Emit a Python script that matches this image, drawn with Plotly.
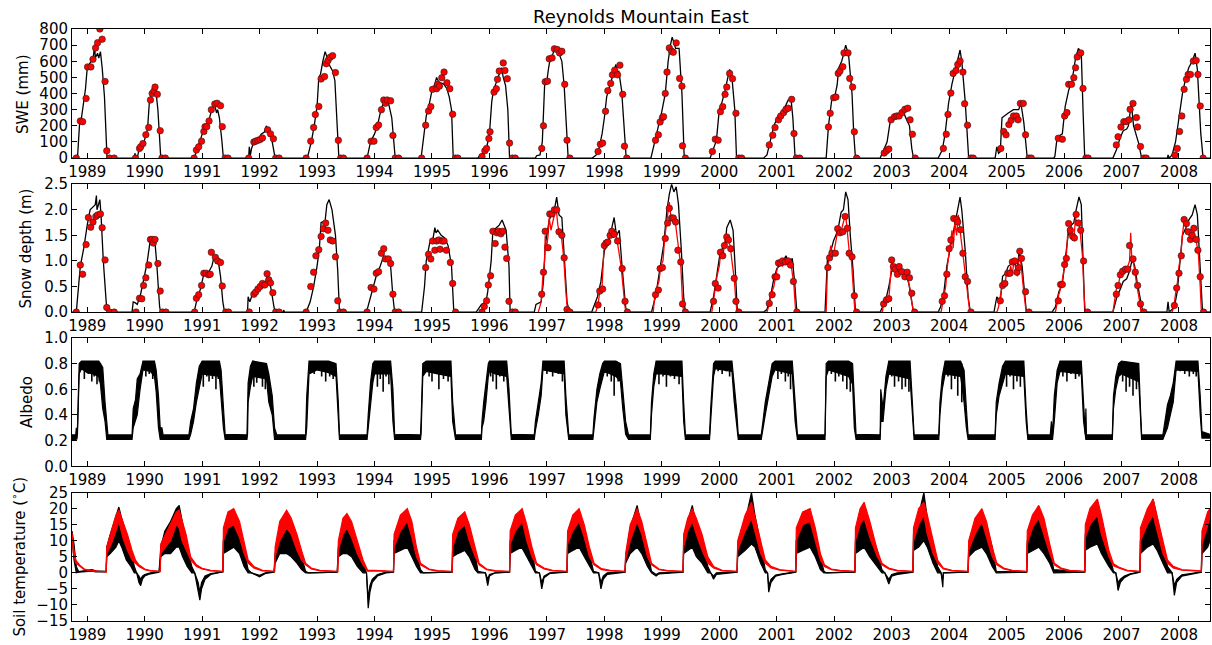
import plotly.graph_objects as go

# ---- axes ----
years = list(range(1989, 2009))
year_labels = [str(y) for y in years]
x_span = [1988.735, 2008.54]

# ---- snow water equivalent (mm): modelled line, observed points ----
swe_model = [
    (1988.735, 0),
    (1988.83, 0), (1988.87, 230), (1988.9, 250), (1988.97, 430), (1989.0, 560), (1989.05, 590), (1989.1, 610),
    (1989.13, 700), (1989.14, 620), (1989.18, 650), (1989.2, 620), (1989.23, 660), (1989.26, 560), (1989.3, 380),
    (1989.33, 100), (1989.345, 0),
    (1989.82, 0), (1989.83, 30), (1989.85, 0), (1989.87, 0), (1989.9, 50), (1989.98, 90), (1990.05, 180),
    (1990.08, 340), (1990.11, 400), (1990.16, 430), (1990.2, 400), (1990.23, 300), (1990.28, 0),
    (1990.84, 0), (1990.87, 10), (1990.92, 60), (1991.0, 140), (1991.05, 200), (1991.1, 210), (1991.16, 290),
    (1991.22, 330), (1991.25, 280), (1991.27, 300), (1991.3, 250), (1991.34, 120), (1991.37, 0),
    (1991.81, 0), (1991.82, 70), (1991.84, 20), (1991.86, 60), (1991.9, 100), (1991.97, 115), (1992.03, 150),
    (1992.08, 160), (1992.12, 200), (1992.14, 170), (1992.2, 140), (1992.24, 60), (1992.27, 0),
    (1992.83, 0), (1992.9, 100), (1992.95, 200), (1993.0, 320), (1993.03, 500), (1993.06, 520), (1993.1, 600),
    (1993.14, 660), (1993.17, 630), (1993.21, 580), (1993.27, 540), (1993.31, 480), (1993.35, 200), (1993.38, 0),
    (1993.87, 0), (1993.93, 100), (1994.0, 150), (1994.05, 200), (1994.1, 280), (1994.15, 340), (1994.2, 360),
    (1994.25, 330), (1994.3, 250), (1994.34, 80), (1994.36, 0),
    (1994.81, 0), (1994.86, 150), (1994.9, 260), (1994.95, 330), (1995.0, 420), (1995.05, 460), (1995.08, 500),
    (1995.12, 470), (1995.2, 460), (1995.26, 430), (1995.3, 380), (1995.34, 300), (1995.37, 0),
    (1995.8, 0), (1995.84, 20), (1995.9, 30), (1995.96, 80), (1996.0, 150), (1996.04, 350), (1996.07, 420),
    (1996.12, 470), (1996.17, 520), (1996.21, 560), (1996.24, 500), (1996.28, 450), (1996.32, 300), (1996.35, 0),
    (1996.8, 0), (1996.82, 15), (1996.88, 20), (1996.92, 100), (1996.96, 450), (1997.0, 480), (1997.03, 560),
    (1997.06, 620), (1997.1, 640), (1997.14, 690), (1997.18, 680), (1997.22, 640), (1997.26, 600), (1997.3, 450),
    (1997.34, 200), (1997.37, 0),
    (1997.79, 0), (1997.86, 20), (1997.9, 50), (1997.96, 150), (1998.0, 250), (1998.04, 380), (1998.08, 430),
    (1998.12, 480), (1998.16, 540), (1998.2, 580), (1998.23, 520), (1998.25, 540), (1998.3, 420), (1998.35, 150),
    (1998.37, 20), (1998.38, 0),
    (1998.81, 0), (1998.88, 100), (1998.95, 200), (1999.0, 290), (1999.06, 400), (1999.11, 600), (1999.15, 700),
    (1999.18, 750), (1999.24, 680), (1999.3, 680), (1999.35, 400), (1999.39, 0),
    (1999.84, 0), (1999.9, 60), (1999.95, 110), (2000.0, 300), (2000.05, 350), (2000.1, 420), (2000.14, 480),
    (2000.18, 550), (2000.22, 500), (2000.27, 300), (2000.3, 0),
    (2000.77, 0), (2000.83, 20), (2000.88, 100), (2000.95, 200), (2001.02, 260), (2001.1, 290), (2001.16, 330),
    (2001.2, 360), (2001.25, 360), (2001.28, 250), (2001.32, 0),
    (2001.86, 0), (2001.9, 200), (2001.93, 280), (2001.96, 370), (2002.02, 400), (2002.05, 450), (2002.08, 560),
    (2002.13, 600), (2002.16, 640), (2002.2, 700), (2002.25, 640), (2002.31, 400), (2002.34, 150), (2002.37, 0),
    (2002.8, 0), (2002.86, 50), (2002.92, 100), (2002.98, 240), (2003.03, 260), (2003.12, 270), (2003.21, 280),
    (2003.27, 230), (2003.31, 200), (2003.35, 60), (2003.38, 0),
    (2003.81, 0), (2003.88, 50), (2003.93, 150), (2003.99, 340), (2004.05, 460), (2004.11, 550), (2004.15, 620),
    (2004.19, 670), (2004.22, 600), (2004.28, 350), (2004.34, 0),
    (2004.8, 0), (2004.83, 70), (2004.86, 30), (2004.89, 40), (2004.92, 250), (2005.03, 280), (2005.12, 300),
    (2005.21, 300), (2005.25, 340), (2005.3, 220), (2005.36, 0),
    (2005.82, 0), (2005.84, 10), (2005.88, 130), (2005.97, 150), (2006.02, 320), (2006.08, 420), (2006.14, 480),
    (2006.2, 620), (2006.25, 680), (2006.3, 650), (2006.33, 300), (2006.36, 0),
    (2006.85, 0), (2006.91, 50), (2006.98, 130), (2007.03, 170), (2007.09, 180), (2007.12, 200), (2007.17, 340),
    (2007.21, 200), (2007.3, 90), (2007.35, 0),
    (2007.8, 0), (2007.81, 20), (2007.83, 0), (2007.88, 20), (2007.94, 100), (2008.0, 250), (2008.06, 400),
    (2008.12, 500), (2008.17, 560), (2008.23, 600), (2008.28, 650), (2008.32, 550), (2008.38, 150), (2008.42, 0),
    (2008.54, 0),
]

swe_obs = [
    (1988.81, 0), (1988.88, 230), (1988.92, 226), (1988.98, 370), (1989.006, 565), (1989.064, 565), (1989.1, 612),
    (1989.145, 683), (1989.18, 715), (1989.22, 800), (1989.26, 737), (1989.31, 475), (1989.34, 45), (1989.39, 0),
    (1989.47, 0),
    (1989.84, 0), (1989.91, 60), (1989.93, 70), (1989.97, 90), (1990.02, 145), (1990.07, 190), (1990.1, 360),
    (1990.13, 400), (1990.16, 415), (1990.18, 440), (1990.22, 395), (1990.27, 170), (1990.3, 0), (1990.36, 0),
    (1990.86, 0), (1990.9, 50), (1990.94, 70), (1990.99, 105), (1991.03, 165), (1991.05, 195), (1991.08, 195),
    (1991.12, 230), (1991.16, 300), (1991.22, 335), (1991.26, 340), (1991.32, 325), (1991.35, 195), (1991.4, 0),
    (1991.45, 0),
    (1991.81, 0), (1991.9, 100), (1991.93, 105), (1991.97, 110), (1992.01, 115), (1992.05, 125), (1992.14, 175),
    (1992.19, 150), (1992.24, 120), (1992.28, 0), (1992.34, 0),
    (1992.81, 0), (1992.89, 105), (1992.94, 190), (1992.97, 270), (1993.03, 320), (1993.07, 490), (1993.13, 505),
    (1993.16, 585), (1993.19, 605), (1993.23, 625), (1993.27, 635), (1993.32, 530), (1993.37, 110), (1993.41, 0),
    (1993.46, 0),
    (1993.87, 0), (1993.94, 105), (1993.99, 105), (1994.03, 190), (1994.07, 205), (1994.12, 300), (1994.16, 360),
    (1994.19, 340), (1994.22, 360), (1994.28, 355), (1994.32, 140), (1994.36, 0), (1994.42, 0),
    (1994.82, 0), (1994.89, 204), (1994.94, 292), (1994.98, 319), (1995.01, 426), (1995.08, 430), (1995.1, 457),
    (1995.13, 446), (1995.17, 498), (1995.21, 533), (1995.26, 467), (1995.31, 430), (1995.36, 272), (1995.41, 0),
    (1995.45, 0),
    (1995.87, 10), (1995.92, 45), (1995.95, 60), (1995.99, 121), (1996.01, 163), (1996.08, 409), (1996.12, 430),
    (1996.14, 488), (1996.17, 539), (1996.24, 590), (1996.27, 543), (1996.31, 492), (1996.35, 93), (1996.4, 0),
    (1996.45, 0),
    (1996.91, 60), (1996.94, 200), (1996.97, 473), (1997.01, 477), (1997.04, 615), (1997.09, 621), (1997.13, 677),
    (1997.18, 673), (1997.22, 652), (1997.26, 662), (1997.31, 457), (1997.35, 111), (1997.4, 0),
    (1997.89, 41), (1997.93, 86), (1997.97, 93), (1998.02, 290), (1998.06, 418), (1998.11, 463), (1998.14, 516),
    (1998.18, 545), (1998.23, 516), (1998.27, 576), (1998.32, 395), (1998.35, 74), (1998.39, 0),
    (1998.89, 111), (1998.94, 144), (1998.97, 224), (1999.01, 251), (1999.03, 257), (1999.06, 401), (1999.09, 533),
    (1999.13, 683), (1999.17, 662), (1999.2, 656), (1999.25, 714), (1999.31, 494), (1999.35, 446), (1999.36, 76),
    (1999.41, 0),
    (1999.88, 41), (1999.93, 117), (1999.98, 111), (2000.02, 288), (2000.06, 319), (2000.1, 395), (2000.13, 440),
    (2000.18, 525), (2000.23, 492), (2000.29, 278), (2000.34, 0), (2000.39, 0),
    (2000.87, 82), (2000.93, 142), (2000.97, 189), (2001.03, 237), (2001.07, 261), (2001.12, 282), (2001.16, 302),
    (2001.2, 309), (2001.26, 364), (2001.3, 152), (2001.34, 0), (2001.4, 0),
    (2001.9, 193), (2001.93, 278), (2001.99, 374), (2002.03, 378), (2002.07, 525), (2002.1, 539), (2002.15, 566),
    (2002.17, 652), (2002.24, 652), (2002.27, 494), (2002.32, 440), (2002.35, 163), (2002.39, 0),
    (2002.87, 31), (2002.91, 45), (2002.95, 56), (2002.99, 237), (2003.05, 257), (2003.09, 261), (2003.13, 261),
    (2003.18, 282), (2003.23, 302), (2003.28, 309), (2003.32, 237), (2003.36, 148), (2003.41, 0),
    (2003.9, 60), (2003.95, 148), (2003.98, 271), (2004.03, 403), (2004.07, 525), (2004.12, 543), (2004.15, 580),
    (2004.19, 601), (2004.24, 533), (2004.27, 337), (2004.32, 204), (2004.38, 0), (2004.42, 0),
    (2004.9, 60), (2004.95, 165), (2004.99, 144), (2005.04, 208), (2005.08, 234), (2005.12, 261), (2005.17, 261),
    (2005.2, 237), (2005.24, 339), (2005.29, 339), (2005.33, 144), (2005.39, 0), (2005.43, 0),
    (2005.9, 123), (2005.97, 117), (2006.01, 261), (2006.05, 282), (2006.08, 457), (2006.13, 457), (2006.17, 498),
    (2006.2, 560), (2006.23, 627), (2006.29, 652), (2006.33, 432), (2006.38, 0), (2006.42, 0),
    (2006.91, 82), (2006.94, 132), (2006.99, 193), (2007.04, 226), (2007.08, 226), (2007.13, 237), (2007.15, 302),
    (2007.2, 339), (2007.26, 251), (2007.28, 193), (2007.33, 72), (2007.39, 0), (2007.43, 0),
    (2007.93, 19), (2007.97, 60), (2008.01, 165), (2008.05, 261), (2008.09, 426), (2008.13, 488), (2008.16, 518),
    (2008.2, 518), (2008.25, 601), (2008.3, 605), (2008.33, 518), (2008.37, 323), (2008.42, 0),
]

# ---- snow depth (m): modelled line, continuous observed line, manual observations ----
depth_model = [
    (1988.735, 0),
    (1988.81, 0), (1988.88, 0.9), (1988.94, 1.25), (1989.0, 1.7), (1989.05, 2.0), (1989.14, 2.1), (1989.16, 2.28),
    (1989.17, 2.0), (1989.2, 2.1), (1989.22, 2.2), (1989.24, 1.9), (1989.28, 1.0), (1989.33, 0.2), (1989.35, 0),
    (1989.78, 0), (1989.8, 0.2), (1989.84, 0.18), (1989.87, 0.15), (1989.92, 0.3), (1989.98, 0.6), (1990.04, 0.95),
    (1990.09, 1.35), (1990.13, 1.42), (1990.18, 1.35), (1990.21, 0.95), (1990.26, 0.1), (1990.28, 0),
    (1990.82, 0), (1990.87, 0.05), (1990.91, 0.25), (1990.97, 0.45), (1991.03, 0.75), (1991.11, 0.78),
    (1991.17, 0.9), (1991.21, 1.1), (1991.24, 0.95), (1991.28, 1.0), (1991.32, 0.7), (1991.36, 0.2), (1991.39, 0),
    (1991.79, 0), (1991.8, 0.3), (1991.83, 0.2), (1991.86, 0.3), (1991.95, 0.38), (1992.03, 0.45), (1992.07, 0.5),
    (1992.1, 0.55), (1992.13, 0.7), (1992.17, 0.6), (1992.2, 0.45), (1992.25, 0.1), (1992.27, 0),
    (1992.41, 0), (1992.42, 0.04), (1992.43, 0),
    (1992.81, 0), (1992.88, 0.2), (1992.94, 0.5), (1993.0, 0.9), (1993.04, 1.25), (1993.07, 1.75), (1993.14, 1.78),
    (1993.17, 2.1), (1993.21, 2.2), (1993.26, 2.0), (1993.3, 1.7), (1993.32, 1.5), (1993.36, 0.8), (1993.39, 0),
    (1993.86, 0), (1993.93, 0.3), (1993.99, 0.5), (1994.04, 0.75), (1994.1, 0.9), (1994.16, 1.1), (1994.22, 1.05),
    (1994.28, 0.9), (1994.32, 0.3), (1994.35, 0),
    (1994.82, 0), (1994.87, 0.5), (1994.9, 1.0), (1994.96, 1.35), (1995.02, 1.45), (1995.05, 1.65), (1995.07, 1.55),
    (1995.1, 1.6), (1995.16, 1.5), (1995.22, 1.45), (1995.28, 1.3), (1995.34, 0.9), (1995.38, 0),
    (1995.77, 0), (1995.8, 0.05), (1995.86, 0.15), (1995.94, 0.2), (1995.97, 0.4), (1996.03, 1.0), (1996.06, 1.6),
    (1996.12, 1.65), (1996.17, 1.7), (1996.22, 1.8), (1996.24, 1.75), (1996.29, 1.6), (1996.34, 0.9), (1996.36, 0),
    (1996.78, 0), (1996.81, 0.15), (1996.9, 0.2), (1996.94, 0.6), (1996.97, 1.3), (1997.01, 1.55), (1997.04, 1.8),
    (1997.1, 1.95), (1997.13, 2.0), (1997.17, 2.25), (1997.21, 1.9), (1997.26, 1.85), (1997.3, 1.2), (1997.35, 0.2),
    (1997.39, 0),
    (1997.78, 0), (1997.88, 0.3), (1997.94, 0.6), (1998.0, 1.2), (1998.04, 1.3), (1998.1, 1.5), (1998.17, 1.85),
    (1998.21, 1.5), (1998.26, 1.6), (1998.3, 1.0), (1998.34, 0.4), (1998.37, 0.1), (1998.39, 0),
    (1998.82, 0), (1998.89, 0.3), (1998.98, 0.9), (1999.03, 1.3), (1999.09, 2.0), (1999.13, 2.3), (1999.17, 2.5),
    (1999.21, 2.35), (1999.25, 2.45), (1999.29, 2.1), (1999.34, 1.2), (1999.38, 0.3), (1999.41, 0),
    (1999.84, 0), (1999.9, 0.3), (1999.96, 0.8), (2000.02, 1.2), (2000.1, 1.3), (2000.13, 1.65), (2000.19, 1.8),
    (2000.24, 1.6), (2000.28, 0.8), (2000.31, 0.1), (2000.33, 0),
    (2000.77, 0), (2000.83, 0.05), (2000.89, 0.3), (2000.94, 0.6), (2001.0, 0.85), (2001.09, 0.95), (2001.16, 1.1),
    (2001.22, 0.95), (2001.27, 1.05), (2001.31, 0.6), (2001.35, 0),
    (2001.84, 0), (2001.88, 1.0), (2001.93, 1.15), (2001.99, 1.4), (2002.03, 1.5), (2002.08, 1.7), (2002.12, 1.95),
    (2002.16, 2.0), (2002.2, 2.35), (2002.24, 2.2), (2002.28, 1.5), (2002.33, 0.8), (2002.37, 0),
    (2002.8, 0), (2002.86, 0.15), (2002.9, 0.25), (2002.95, 0.5), (2003.0, 0.8), (2003.09, 0.85), (2003.18, 0.75),
    (2003.24, 0.8), (2003.3, 0.55), (2003.35, 0.2), (2003.38, 0),
    (2003.81, 0), (2003.85, 0.1), (2003.9, 0.3), (2003.96, 0.9), (2004.02, 1.25), (2004.08, 1.6), (2004.14, 1.9),
    (2004.19, 2.25), (2004.22, 2.0), (2004.28, 1.2), (2004.33, 0.3), (2004.37, 0),
    (2004.78, 0), (2004.83, 0.3), (2004.89, 0.2), (2004.93, 0.7), (2004.98, 0.75), (2005.03, 0.9), (2005.1, 0.95),
    (2005.14, 1.0), (2005.18, 0.8), (2005.22, 1.2), (2005.27, 0.9), (2005.3, 0.5), (2005.34, 0.05), (2005.36, 0),
    (2005.79, 0), (2005.85, 0.1), (2005.91, 0.4), (2005.97, 0.55), (2006.02, 1.0), (2006.07, 1.5), (2006.13, 1.7),
    (2006.17, 1.75), (2006.21, 2.0), (2006.26, 2.25), (2006.3, 2.1), (2006.33, 1.0), (2006.36, 0),
    (2006.85, 0), (2006.92, 0.3), (2006.98, 0.45), (2007.03, 0.6), (2007.09, 0.65), (2007.14, 0.8), (2007.19, 1.05),
    (2007.23, 0.9), (2007.27, 0.6), (2007.33, 0.2), (2007.37, 0),
    (2007.79, 0), (2007.8, 0.1), (2007.81, 0.2), (2007.83, 0), (2007.92, 0.1), (2007.97, 0.4), (2008.0, 0.8),
    (2008.06, 1.5), (2008.12, 1.65), (2008.17, 1.8), (2008.23, 1.9), (2008.28, 2.1), (2008.32, 1.9), (2008.37, 0.8),
    (2008.41, 0),
    (2008.54, 0),
]

depth_obs_line = [
    (1996.85, 0), (1996.9, 0.2), (1996.93, 0.7), (1996.96, 1.0), (1996.97, 1.5), (1996.99, 1.2), (1997.02, 1.5),
    (1997.04, 1.85), (1997.07, 1.6), (1997.1, 1.75), (1997.13, 1.9), (1997.16, 2.05), (1997.19, 1.7), (1997.22, 1.55),
    (1997.25, 1.5), (1997.29, 1.1), (1997.33, 0.4), (1997.36, 0),
    (1997.85, 0), (1997.89, 0.15), (1997.92, 0.4), (1997.96, 0.5), (1997.99, 1.2), (1998.02, 1.4), (1998.06, 1.3),
    (1998.09, 1.55), (1998.13, 1.65), (1998.16, 1.45), (1998.19, 1.6), (1998.22, 1.35), (1998.25, 1.2),
    (1998.29, 0.9), (1998.33, 0.4), (1998.36, 0.1), (1998.38, 0),
    (1998.85, 0), (1998.88, 0.35), (1998.92, 0.5), (1998.95, 0.6), (1998.98, 0.9), (1999.02, 1.0), (1999.05, 1.45),
    (1999.08, 1.75), (1999.11, 2.0), (1999.13, 2.15), (1999.16, 1.85), (1999.2, 1.75), (1999.23, 1.8),
    (1999.27, 1.45), (1999.3, 1.2), (1999.33, 0.9), (1999.36, 0.2), (1999.38, 0),
    (1999.87, 0), (1999.9, 0.25), (1999.93, 0.5), (1999.96, 0.7), (2000.0, 0.9), (2000.03, 1.2), (2000.06, 1.05),
    (2000.09, 1.35), (2000.12, 1.5), (2000.15, 1.4), (2000.19, 1.3), (2000.22, 1.0), (2000.26, 0.65),
    (2000.29, 0.2), (2000.31, 0),
    (2000.83, 0), (2000.87, 0.15), (2000.9, 0.35), (2000.95, 0.5), (2000.98, 0.7), (2001.02, 0.9), (2001.05, 0.95),
    (2001.1, 0.9), (2001.15, 1.0), (2001.18, 0.95), (2001.22, 1.0), (2001.26, 0.85), (2001.3, 0.5), (2001.33, 0),
    (2001.86, 0), (2001.88, 0.8), (2001.91, 1.05), (2001.94, 1.3), (2001.97, 1.1), (2002.0, 1.2), (2002.04, 1.45),
    (2002.07, 1.7), (2002.1, 1.5), (2002.13, 1.65), (2002.17, 1.8), (2002.2, 1.9), (2002.23, 1.6), (2002.26, 1.2),
    (2002.3, 1.0), (2002.33, 0.5), (2002.36, 0),
    (2002.84, 0), (2002.86, 0.25), (2002.89, 0.15), (2002.92, 0.3), (2002.95, 0.25), (2002.98, 0.8), (2003.0, 1.0),
    (2003.03, 0.8), (2003.06, 0.9), (2003.09, 0.7), (2003.12, 0.85), (2003.15, 0.75), (2003.18, 0.8),
    (2003.21, 0.65), (2003.25, 0.75), (2003.29, 0.6), (2003.32, 0.45), (2003.35, 0.2), (2003.38, 0),
    (2003.86, 0), (2003.9, 0.25), (2003.94, 0.5), (2003.97, 0.9), (2004.0, 1.2), (2004.03, 1.4), (2004.05, 1.6),
    (2004.07, 1.25), (2004.1, 1.75), (2004.13, 1.5), (2004.16, 1.9), (2004.19, 1.6), (2004.22, 1.3), (2004.25, 1.0),
    (2004.29, 0.65), (2004.33, 0.25), (2004.36, 0),
    (2004.83, 0), (2004.86, 0.1), (2004.88, 0.25), (2004.91, 0.4), (2004.94, 0.6), (2004.97, 0.5), (2005.0, 0.8),
    (2005.04, 0.7), (2005.07, 0.9), (2005.1, 0.75), (2005.13, 1.0), (2005.16, 0.85), (2005.19, 0.7), (2005.22, 1.1),
    (2005.25, 0.95), (2005.28, 0.6), (2005.31, 0.35), (2005.34, 0),
    (2005.85, 0), (2005.88, 0.2), (2005.91, 0.35), (2005.95, 0.5), (2005.98, 0.7), (2006.01, 0.9), (2006.04, 1.1),
    (2006.07, 1.65), (2006.1, 1.5), (2006.13, 1.6), (2006.17, 1.4), (2006.2, 1.85), (2006.23, 1.7), (2006.26, 1.8),
    (2006.29, 1.5), (2006.32, 1.1), (2006.35, 0.3), (2006.37, 0),
    (2006.85, 0), (2006.88, 0.2), (2006.91, 0.45), (2006.95, 0.55), (2006.98, 0.75), (2007.01, 0.8), (2007.05, 0.75),
    (2007.08, 0.8), (2007.11, 0.9), (2007.14, 1.0), (2007.16, 1.55), (2007.18, 1.0), (2007.21, 0.95),
    (2007.24, 0.7), (2007.27, 0.5), (2007.31, 0.25), (2007.34, 0),
    (2007.88, 0), (2007.91, 0.1), (2007.94, 0.35), (2007.97, 0.55), (2008.0, 0.9), (2008.03, 1.1), (2008.06, 1.5),
    (2008.09, 1.8), (2008.12, 1.65), (2008.15, 1.55), (2008.18, 1.5), (2008.21, 1.4), (2008.24, 1.7),
    (2008.27, 1.5), (2008.3, 1.4), (2008.34, 1.1), (2008.37, 0.5), (2008.39, 0),
    (2008.54, 0),
]

depth_obs = [
    (1988.81, 0), (1988.88, 0.92), (1988.92, 0.74), (1988.98, 1.32), (1989.02, 1.85), (1989.06, 1.66), (1989.1, 1.76),
    (1989.15, 1.87), (1989.18, 1.9), (1989.23, 1.92), (1989.26, 1.65), (1989.31, 1.02), (1989.34, 0.09),
    (1989.39, 0), (1989.47, 0),
    (1989.85, 0), (1989.91, 0.27), (1989.95, 0.26), (1989.98, 0.52), (1990.02, 0.67), (1990.07, 0.92),
    (1990.1, 1.42), (1990.13, 1.42), (1990.15, 1.35), (1990.18, 1.42), (1990.23, 0.95), (1990.27, 0.41),
    (1990.31, 0), (1990.37, 0),
    (1990.87, 0), (1990.9, 0.27), (1990.94, 0.34), (1990.99, 0.52), (1991.03, 0.76), (1991.07, 0.76),
    (1991.11, 0.73), (1991.14, 0.74), (1991.16, 1.17), (1991.23, 1.07), (1991.27, 1.0), (1991.32, 0.97),
    (1991.35, 0.51), (1991.41, 0), (1991.46, 0),
    (1991.82, 0), (1991.9, 0.35), (1991.93, 0.39), (1991.97, 0.45), (1992.01, 0.5), (1992.05, 0.56), (1992.09, 0.53),
    (1992.13, 0.75), (1992.16, 0.63), (1992.19, 0.57), (1992.23, 0.38), (1992.28, 0), (1992.34, 0),
    (1992.81, 0), (1992.89, 0.5), (1992.94, 0.78), (1992.98, 1.1), (1993.03, 1.22), (1993.07, 1.48), (1993.11, 1.63),
    (1993.15, 1.74), (1993.19, 1.6), (1993.23, 1.41), (1993.27, 1.39), (1993.32, 1.08), (1993.36, 0.22),
    (1993.4, 0), (1993.46, 0),
    (1993.87, 0), (1993.94, 0.48), (1993.99, 0.45), (1994.03, 0.76), (1994.07, 0.79), (1994.12, 1.15),
    (1994.16, 1.24), (1994.19, 1.04), (1994.24, 1.04), (1994.28, 0.95), (1994.32, 0.35), (1994.36, 0), (1994.42, 0),
    (1994.89, 0.87), (1994.94, 1.13), (1994.98, 1.04), (1995.01, 1.39), (1995.05, 1.21), (1995.08, 1.39),
    (1995.12, 1.41), (1995.14, 1.23), (1995.18, 1.39), (1995.21, 1.39), (1995.25, 1.21), (1995.32, 0.97),
    (1995.36, 0.56), (1995.41, 0),
    (1995.87, 0), (1995.91, 0.11), (1995.95, 0.22), (1995.98, 0.53), (1996.02, 0.71), (1996.06, 1.58), (1996.1, 1.34),
    (1996.13, 1.55), (1996.16, 1.58), (1996.2, 1.53), (1996.23, 1.58), (1996.27, 1.27), (1996.3, 1.05),
    (1996.34, 0.21), (1996.4, 0), (1996.45, 0),
    (1996.91, 0.35), (1996.94, 0.78), (1996.97, 1.58), (1997.02, 1.26), (1997.05, 1.92), (1997.09, 1.92),
    (1997.13, 2.0), (1997.17, 2.0), (1997.21, 1.57), (1997.26, 1.5), (1997.3, 1.06), (1997.35, 0.05), (1997.4, 0),
    (1997.89, 0.14), (1997.92, 0.41), (1997.97, 0.45), (1998.0, 1.3), (1998.03, 1.35), (1998.06, 1.37),
    (1998.1, 1.5), (1998.13, 1.58), (1998.17, 1.52), (1998.23, 1.39), (1998.31, 0.85), (1998.36, 0.21), (1998.4, 0),
    (1998.89, 0.34), (1998.94, 0.43), (1998.97, 0.85), (1999.01, 0.87), (1999.06, 1.44), (1999.1, 1.74),
    (1999.13, 2.03), (1999.17, 1.84), (1999.2, 1.84), (1999.24, 1.76), (1999.28, 1.21), (1999.33, 0.98),
    (1999.36, 0.16), (1999.41, 0),
    (1999.9, 0.21), (1999.93, 0.56), (1999.98, 0.47), (2000.02, 1.17), (2000.06, 1.1), (2000.09, 1.3),
    (2000.13, 1.47), (2000.16, 1.41), (2000.2, 1.24), (2000.26, 0.66), (2000.29, 0.21), (2000.34, 0),
    (2000.87, 0.17), (2000.92, 0.34), (2000.97, 0.69), (2001.0, 0.69), (2001.03, 0.96), (2001.07, 0.96),
    (2001.1, 1.0), (2001.15, 0.98), (2001.2, 1.0), (2001.24, 0.92), (2001.29, 0.6), (2001.35, 0),
    (2001.89, 0.87), (2001.92, 1.06), (2001.96, 1.15), (2002.02, 1.15), (2002.06, 1.63), (2002.1, 1.55),
    (2002.15, 1.57), (2002.19, 1.87), (2002.23, 1.64), (2002.26, 1.15), (2002.31, 1.08), (2002.35, 0.32),
    (2002.39, 0),
    (2002.86, 0.16), (2002.91, 0.24), (2002.95, 0.26), (2003.0, 1.02), (2003.03, 0.89), (2003.06, 0.84),
    (2003.1, 0.74), (2003.13, 0.89), (2003.18, 0.79), (2003.23, 0.69), (2003.27, 0.78), (2003.31, 0.67),
    (2003.35, 0.37), (2003.4, 0),
    (2003.88, 0.21), (2003.92, 0.32), (2003.96, 0.74), (2004.0, 1.24), (2004.03, 1.41), (2004.08, 1.83),
    (2004.13, 1.81), (2004.15, 1.76), (2004.2, 1.61), (2004.24, 1.15), (2004.28, 0.69), (2004.32, 0.6),
    (2004.38, 0),
    (2004.89, 0.22), (2004.93, 0.52), (2004.97, 0.56), (2005.02, 0.76), (2005.06, 0.76), (2005.1, 0.98),
    (2005.14, 1.0), (2005.18, 0.78), (2005.21, 0.87), (2005.23, 1.19), (2005.26, 1.05), (2005.33, 0.4),
    (2005.39, 0),
    (2005.9, 0.22), (2005.94, 0.54), (2005.97, 0.54), (2006.01, 0.93), (2006.04, 1.05), (2006.08, 1.73),
    (2006.11, 1.6), (2006.15, 1.48), (2006.18, 1.45), (2006.21, 1.91), (2006.25, 1.74), (2006.29, 1.6),
    (2006.34, 1.0), (2006.41, 0),
    (2006.91, 0.35), (2006.94, 0.52), (2006.98, 0.73), (2007.02, 0.8), (2007.07, 0.84), (2007.11, 0.84),
    (2007.14, 1.3), (2007.2, 1.04), (2007.24, 0.78), (2007.28, 0.52), (2007.33, 0.16), (2007.39, 0),
    (2007.92, 0.13), (2007.96, 0.47), (2008.0, 0.76), (2008.04, 1.1), (2008.09, 1.81), (2008.13, 1.73),
    (2008.16, 1.57), (2008.2, 1.42), (2008.23, 1.5), (2008.26, 1.64), (2008.3, 1.42), (2008.33, 1.21),
    (2008.37, 0.69), (2008.43, 0),
]

# ---- albedo: daily range (low, high) and single-day dips under fresh-snow plateau ----
albedo_band = [
    (1988.735, 0.21, 0.245), (1988.8, 0.21, 0.245), (1988.81, 0.22, 0.3), (1988.82, 0.21, 0.245),
    (1988.83, 0.25, 0.3), (1988.86, 0.72, 0.8), (1988.9, 0.76, 0.82), (1989.0, 0.73, 0.82), (1989.1, 0.72, 0.82),
    (1989.2, 0.7, 0.82), (1989.23, 0.64, 0.8), (1989.27, 0.45, 0.77), (1989.31, 0.35, 0.5), (1989.34, 0.21, 0.3),
    (1989.36, 0.21, 0.245), (1989.78, 0.21, 0.245), (1989.8, 0.3, 0.45), (1989.84, 0.35, 0.52),
    (1989.87, 0.4, 0.68), (1989.92, 0.6, 0.72), (1989.97, 0.75, 0.82), (1990.1, 0.74, 0.82), (1990.17, 0.7, 0.82),
    (1990.2, 0.58, 0.75), (1990.24, 0.3, 0.55), (1990.27, 0.21, 0.3), (1990.3, 0.21, 0.3), (1990.32, 0.21, 0.245),
    (1990.77, 0.21, 0.245), (1990.8, 0.25, 0.35), (1990.85, 0.35, 0.45), (1990.9, 0.5, 0.65),
    (1990.95, 0.62, 0.78), (1991.0, 0.72, 0.82), (1991.3, 0.7, 0.82), (1991.33, 0.5, 0.75), (1991.37, 0.3, 0.5),
    (1991.4, 0.21, 0.25), (1991.78, 0.21, 0.245), (1991.79, 0.25, 0.62), (1991.8, 0.5, 0.65),
    (1991.84, 0.62, 0.78), (1991.88, 0.7, 0.82), (1992.12, 0.68, 0.8), (1992.16, 0.5, 0.72), (1992.22, 0.4, 0.55),
    (1992.26, 0.21, 0.3), (1992.3, 0.21, 0.245), (1992.8, 0.21, 0.245), (1992.82, 0.3, 0.55), (1992.86, 0.72, 0.82),
    (1993.0, 0.75, 0.82), (1993.2, 0.73, 0.82), (1993.33, 0.7, 0.8), (1993.37, 0.3, 0.5), (1993.39, 0.21, 0.245),
    (1993.87, 0.21, 0.245), (1993.89, 0.3, 0.4), (1993.93, 0.5, 0.65), (1993.97, 0.65, 0.8), (1994.0, 0.72, 0.82),
    (1994.28, 0.72, 0.82), (1994.32, 0.35, 0.6), (1994.35, 0.21, 0.25), (1994.8, 0.21, 0.245),
    (1994.81, 0.25, 0.35), (1994.84, 0.7, 0.8), (1994.9, 0.74, 0.82), (1995.1, 0.72, 0.82), (1995.33, 0.7, 0.82),
    (1995.36, 0.35, 0.5), (1995.41, 0.21, 0.245), (1995.86, 0.21, 0.245), (1995.87, 0.3, 0.35), (1995.9, 0.35, 0.5),
    (1995.94, 0.5, 0.65), (1995.98, 0.7, 0.8), (1996.0, 0.74, 0.82), (1996.1, 0.72, 0.82), (1996.3, 0.7, 0.82),
    (1996.34, 0.45, 0.6), (1996.38, 0.21, 0.25), (1996.78, 0.21, 0.245), (1996.8, 0.28, 0.35),
    (1996.85, 0.4, 0.5), (1996.9, 0.55, 0.65), (1996.93, 0.75, 0.82), (1997.3, 0.72, 0.82), (1997.33, 0.4, 0.55),
    (1997.38, 0.21, 0.245), (1997.8, 0.21, 0.245), (1997.82, 0.28, 0.38), (1997.87, 0.5, 0.6),
    (1997.92, 0.6, 0.72), (1997.97, 0.7, 0.8), (1998.0, 0.74, 0.82), (1998.2, 0.7, 0.82), (1998.28, 0.66, 0.8),
    (1998.32, 0.45, 0.6), (1998.37, 0.25, 0.35), (1998.42, 0.21, 0.245), (1998.8, 0.21, 0.245),
    (1998.82, 0.4, 0.5), (1998.86, 0.62, 0.72), (1998.9, 0.72, 0.82), (1999.0, 0.72, 0.82), (1999.35, 0.7, 0.82),
    (1999.38, 0.35, 0.5), (1999.41, 0.21, 0.245), (1999.83, 0.21, 0.245), (1999.85, 0.35, 0.45),
    (1999.9, 0.7, 0.8), (1999.93, 0.76, 0.82), (2000.22, 0.74, 0.82), (2000.26, 0.5, 0.65), (2000.3, 0.3, 0.45),
    (2000.33, 0.21, 0.245), (2000.73, 0.21, 0.245), (2000.76, 0.28, 0.35), (2000.8, 0.4, 0.5),
    (2000.86, 0.55, 0.65), (2000.92, 0.7, 0.8), (2000.97, 0.75, 0.82), (2001.27, 0.72, 0.82), (2001.32, 0.35, 0.5),
    (2001.36, 0.21, 0.245), (2001.84, 0.21, 0.245), (2001.86, 0.7, 0.8), (2001.9, 0.75, 0.82),
    (2002.25, 0.7, 0.82), (2002.32, 0.64, 0.8), (2002.35, 0.3, 0.45), (2002.38, 0.21, 0.25), (2002.8, 0.21, 0.245),
    (2002.81, 0.35, 0.6), (2002.85, 0.35, 0.45), (2002.9, 0.6, 0.7), (2002.95, 0.72, 0.82), (2003.32, 0.68, 0.82),
    (2003.36, 0.35, 0.5), (2003.39, 0.21, 0.245), (2003.82, 0.21, 0.245), (2003.84, 0.4, 0.5), (2003.88, 0.6, 0.7),
    (2003.93, 0.72, 0.82), (2004.2, 0.7, 0.82), (2004.26, 0.5, 0.75), (2004.3, 0.3, 0.45), (2004.33, 0.21, 0.245),
    (2004.8, 0.21, 0.245), (2004.82, 0.4, 0.5), (2004.87, 0.55, 0.65), (2004.93, 0.65, 0.78), (2004.98, 0.72, 0.82),
    (2005.3, 0.7, 0.82), (2005.34, 0.35, 0.45), (2005.37, 0.21, 0.245), (2005.76, 0.21, 0.245),
    (2005.78, 0.21, 0.35), (2005.8, 0.21, 0.245), (2005.83, 0.35, 0.55), (2005.88, 0.65, 0.75),
    (2005.93, 0.74, 0.82), (2006.3, 0.72, 0.82), (2006.34, 0.35, 0.5), (2006.37, 0.21, 0.25), (2006.38, 0.21, 0.45),
    (2006.39, 0.21, 0.245), (2006.84, 0.21, 0.245), (2006.86, 0.45, 0.55), (2006.9, 0.6, 0.7), (2006.95, 0.7, 0.8),
    (2007.0, 0.72, 0.82), (2007.3, 0.66, 0.8), (2007.33, 0.3, 0.45), (2007.35, 0.21, 0.245), (2007.72, 0.21, 0.245),
    (2007.75, 0.25, 0.35), (2007.8, 0.3, 0.48), (2007.85, 0.4, 0.55), (2007.9, 0.5, 0.65), (2007.95, 0.75, 0.82),
    (2008.33, 0.74, 0.82), (2008.37, 0.4, 0.55), (2008.4, 0.22, 0.27), (2008.54, 0.22, 0.25),
]

albedo_plateau = 0.8
albedo_dips = [
    (1988.95, 0.68), (1989.02, 0.72), (1989.08, 0.66), (1989.12, 0.7), (1989.17, 0.64), (1989.21, 0.66),
    (1990.02, 0.7), (1990.08, 0.72), (1990.14, 0.68),
    (1991.02, 0.62), (1991.08, 0.7), (1991.12, 0.66), (1991.18, 0.68), (1991.24, 0.6), (1991.28, 0.68),
    (1991.9, 0.62), (1991.95, 0.65), (1992.0, 0.7), (1992.05, 0.62), (1992.1, 0.6),
    (1992.95, 0.72), (1993.08, 0.7), (1993.15, 0.66), (1993.22, 0.7), (1993.28, 0.68),
    (1994.05, 0.62), (1994.1, 0.68), (1994.15, 0.58), (1994.2, 0.7), (1994.25, 0.64),
    (1994.95, 0.7), (1995.0, 0.66), (1995.06, 0.72), (1995.12, 0.6), (1995.2, 0.68), (1995.28, 0.66),
    (1996.02, 0.7), (1996.06, 0.66), (1996.12, 0.6), (1996.18, 0.7), (1996.25, 0.66),
    (1997.0, 0.72), (1997.1, 0.7), (1997.2, 0.72), (1997.27, 0.66),
    (1998.05, 0.7), (1998.12, 0.66), (1998.17, 0.55), (1998.24, 0.66),
    (1998.95, 0.64), (1999.02, 0.7), (1999.08, 0.62), (1999.15, 0.7), (1999.22, 0.68), (1999.3, 0.64),
    (1999.98, 0.74), (2000.05, 0.72), (2000.12, 0.74), (2000.18, 0.7),
    (2001.02, 0.68), (2001.08, 0.72), (2001.15, 0.66), (2001.2, 0.7), (2001.24, 0.6),
    (2001.95, 0.72), (2002.02, 0.66), (2002.08, 0.7), (2002.15, 0.66), (2002.22, 0.6), (2002.28, 0.58),
    (2003.0, 0.7), (2003.05, 0.62), (2003.12, 0.66), (2003.18, 0.6), (2003.24, 0.62), (2003.3, 0.58),
    (2003.98, 0.7), (2004.04, 0.6), (2004.1, 0.68), (2004.15, 0.55), (2004.22, 0.5),
    (2005.0, 0.62), (2005.06, 0.7), (2005.12, 0.6), (2005.18, 0.66), (2005.24, 0.62),
    (2005.98, 0.7), (2006.05, 0.66), (2006.12, 0.72), (2006.2, 0.68), (2006.26, 0.7),
    (2007.02, 0.66), (2007.08, 0.58), (2007.14, 0.62), (2007.2, 0.55), (2007.26, 0.6),
    (2008.02, 0.74), (2008.1, 0.72), (2008.18, 0.7), (2008.25, 0.72), (2008.3, 0.7),
]

# ---- soil temperature (deg C): daily range, measured (black) and modelled (red) ----
soil_obs_band = [
    (1988.735, 11, 13), (1988.77, 4, 9), (1988.81, 0, 2), (1988.85, 0.2, 0.4), (1989.08, 0.5, 1.0),
    (1989.15, 0.3, 0.6), (1989.33, 0.3, 0.5), (1989.34, 5, 8), (1989.4, 6, 12), (1989.5, 8, 18), (1989.55, 10, 20.5),
    (1989.6, 8, 17), (1989.68, 4, 12), (1989.76, 2, 7), (1989.82, 0, 2), (1989.86, 0, 0), (1989.9, -3, -1),
    (1989.93, -4, -2), (1989.96, -2, -1), (1990.0, -1, -0.5), (1990.1, -0.3, 0), (1990.25, 0.2, 0.4),
    (1990.28, 5, 8), (1990.35, 6, 13), (1990.45, 6, 16), (1990.55, 8, 20), (1990.6, 8, 21), (1990.66, 5, 15),
    (1990.74, 2, 8), (1990.82, 0, 2), (1990.87, 0, 0), (1990.93, -5, -3), (1990.96, -8.5, -6), (1990.99, -5, -3),
    (1991.05, -2, -1), (1991.15, -0.5, -0.2), (1991.3, 0.2, 0.3), (1991.36, 0.3, 0.3), (1991.37, 6, 10),
    (1991.45, 7, 15), (1991.55, 8, 17), (1991.65, 6, 14), (1991.73, 2, 7), (1991.8, 0, 1), (1991.86, 0, 0),
    (1992.0, -1.2, -0.8), (1992.1, -0.2, 0), (1992.25, 0.2, 0.3), (1992.27, 3, 6), (1992.35, 6, 13),
    (1992.47, 6, 17), (1992.55, 5, 15), (1992.65, 3, 9), (1992.73, 1, 5), (1992.8, 0, 0.5), (1992.85, 0, 0),
    (1993.35, 0.2, 0.2), (1993.37, 5, 8), (1993.45, 6, 13), (1993.52, 6, 15), (1993.6, 5, 13), (1993.7, 2, 8),
    (1993.8, 0, 3), (1993.86, 0, 0), (1993.89, -11, -8), (1993.92, -6, -4), (1993.96, -3, -2), (1994.05, -1, -0.5),
    (1994.2, 0, 0.2), (1994.33, 0.2, 0.3), (1994.34, 6, 10), (1994.45, 7, 15), (1994.57, 8, 18), (1994.65, 5, 13),
    (1994.73, 2, 6), (1994.8, 0, 1), (1994.85, 0, 0), (1995.35, 0.2, 0.3), (1995.36, 5, 8), (1995.45, 6, 13),
    (1995.57, 7, 15), (1995.65, 5, 12), (1995.75, 1, 6), (1995.8, 0, 0.5), (1995.93, 0, 0), (1995.97, -4, -2),
    (1996.0, -1, -0.5), (1996.1, 0, 0), (1996.35, 0.2, 0.3), (1996.36, 6, 10), (1996.45, 7, 15), (1996.56, 8, 17),
    (1996.65, 5, 12), (1996.74, 2, 7), (1996.8, 0, 0.5), (1996.87, 0, 0), (1996.91, -5, -3), (1996.95, -1.5, -1),
    (1997.05, -0.2, 0), (1997.35, 0.2, 0.3), (1997.36, 6, 10), (1997.45, 7, 14), (1997.56, 8, 16),
    (1997.65, 5, 12), (1997.74, 2, 6), (1997.81, 0, 0.5), (1997.9, 0, 0), (1997.94, -5, -3), (1997.98, -2, -1),
    (1998.05, -0.5, 0), (1998.36, 0.2, 0.3), (1998.37, 3, 5), (1998.45, 6, 14), (1998.57, 8, 21), (1998.65, 6, 14),
    (1998.75, 2, 7), (1998.82, 0, 0.5), (1998.9, -1, -0.5), (1998.95, -0.3, 0), (1999.37, 0.2, 0.3),
    (1999.38, 6, 10), (1999.45, 7, 16), (1999.53, 8, 21), (1999.6, 5, 15), (1999.7, 3, 10), (1999.8, 0, 2),
    (1999.85, 0, 0), (1999.9, -2, -1), (1999.95, -0.5, 0), (2000.31, 0.2, 0.3), (2000.32, 5, 8), (2000.45, 7, 16),
    (2000.56, 9, 25), (2000.62, 8, 18), (2000.72, 3, 9), (2000.8, 0, 1), (2000.84, 0, 0), (2000.86, -6, -4),
    (2000.9, -3, -2), (2000.98, -1, -0.7), (2001.1, -0.5, -0.3), (2001.33, 0.2, 0.3), (2001.34, 6, 10),
    (2001.45, 7, 17), (2001.58, 8, 19), (2001.67, 5, 12), (2001.76, 1, 5), (2001.82, 0, 0.5), (2001.86, 0, 0),
    (2002.36, 0.2, 0.3), (2002.37, 6, 10), (2002.45, 7, 16), (2002.52, 8, 18), (2002.62, 5, 13), (2002.75, 2, 7),
    (2002.83, 0, 1), (2002.88, 0, 0), (2002.95, -3.5, -2), (2003.0, -1, -0.5), (2003.1, -0.5, 0),
    (2003.37, 0.2, 0.3), (2003.38, 7, 12), (2003.47, 8, 18), (2003.56, 10, 25), (2003.62, 8, 17), (2003.72, 3, 9),
    (2003.8, 0, 2), (2003.86, 0, 0), (2003.89, -4.5, -2), (2003.9, 0, 0), (2004.33, 0.2, 0.3), (2004.34, 5, 8),
    (2004.45, 7, 15), (2004.57, 8, 19), (2004.65, 6, 15), (2004.75, 2, 8), (2004.82, 0, 0.5), (2005.35, 0.2, 0.3),
    (2005.36, 6, 10), (2005.45, 7, 16), (2005.56, 8, 20), (2005.65, 6, 15), (2005.75, 3, 8), (2005.82, 0, 1),
    (2006.36, 0.2, 0.3), (2006.37, 7, 12), (2006.45, 8, 17), (2006.58, 9, 20), (2006.65, 6, 15), (2006.78, 2, 6),
    (2006.86, 0, 0.5), (2006.9, 0, 0), (2006.94, -5.5, -3), (2006.98, -3, -2), (2007.05, -1.5, -1),
    (2007.15, -0.5, -0.3), (2007.32, 0.2, 0.3), (2007.33, 6, 10), (2007.45, 8, 18), (2007.55, 9, 23),
    (2007.62, 7, 17), (2007.72, 3, 9), (2007.8, 0, 2), (2007.88, 0, 0), (2007.92, -7, -4), (2007.96, -3, -2),
    (2008.05, -1, -0.6), (2008.2, -0.5, -0.2), (2008.39, 0.2, 0.3), (2008.4, 6, 10), (2008.5, 8, 17),
    (2008.54, 10, 20),
]

soil_model_band = [
    (1988.735, 11.5, 12.5), (1988.76, 6, 8), (1988.8, 3, 4), (1988.88, 1.8, 2.2), (1988.95, 1.0, 1.2),
    (1989.05, 0.6, 0.8), (1989.2, 0.4, 0.5), (1989.33, 0.3, 0.4), (1989.34, 6, 8), (1989.42, 9, 13),
    (1989.5, 13, 18), (1989.55, 16, 19.5), (1989.62, 11, 16), (1989.7, 7, 12), (1989.78, 4, 7), (1989.84, 3, 4),
    (1989.9, 2, 2.5), (1990.0, 1, 1.2), (1990.1, 0.6, 0.7), (1990.27, 0.4, 0.5), (1990.28, 6, 9), (1990.36, 8, 12),
    (1990.45, 10, 15), (1990.55, 15, 19), (1990.6, 14, 19.5), (1990.65, 10, 16), (1990.72, 7, 12), (1990.8, 4, 5),
    (1990.9, 2, 2.5), (1991.0, 1.2, 1.4), (1991.15, 0.6, 0.8), (1991.36, 0.4, 0.5), (1991.37, 10, 14),
    (1991.45, 14, 19), (1991.55, 15, 20), (1991.65, 11, 16), (1991.73, 6, 10), (1991.8, 3, 4), (1991.9, 1.5, 2),
    (1992.05, 0.6, 0.8), (1992.26, 0.4, 0.5), (1992.27, 5, 8), (1992.35, 10, 16), (1992.47, 14, 19.5),
    (1992.55, 12, 17), (1992.65, 7, 12), (1992.73, 4, 7), (1992.8, 2.5, 3), (1992.9, 1.2, 1.5), (1993.05, 0.6, 0.8),
    (1993.36, 0.4, 0.5), (1993.37, 7, 10), (1993.45, 12, 17), (1993.52, 14, 18.5), (1993.6, 11, 16),
    (1993.7, 6, 10), (1993.8, 2.5, 4), (1993.88, 0.5, 0.8), (1994.0, 0.6, 0.8), (1994.33, 0.4, 0.5),
    (1994.34, 8, 12), (1994.45, 13, 18), (1994.57, 16, 20), (1994.65, 11, 16), (1994.73, 5, 8), (1994.8, 2.5, 3),
    (1994.95, 1.0, 1.2), (1995.1, 0.5, 0.7), (1995.35, 0.4, 0.5), (1995.36, 8, 12), (1995.45, 13, 17),
    (1995.57, 15, 19), (1995.65, 10, 15), (1995.75, 5, 8), (1995.82, 2.5, 3), (1995.95, 1.0, 1.2),
    (1996.1, 0.5, 0.7), (1996.35, 0.4, 0.5), (1996.36, 9, 13), (1996.45, 13, 18), (1996.57, 16, 20),
    (1996.65, 10, 15), (1996.74, 5, 8), (1996.82, 2.5, 3), (1996.95, 1.2, 1.5), (1997.1, 0.6, 0.8),
    (1997.35, 0.4, 0.5), (1997.36, 9, 13), (1997.45, 13, 18), (1997.56, 16, 20), (1997.65, 11, 15),
    (1997.74, 5, 8), (1997.82, 2.5, 3), (1997.95, 1.0, 1.3), (1998.1, 0.6, 0.8), (1998.36, 0.4, 0.5),
    (1998.37, 4, 6), (1998.45, 10, 15), (1998.57, 16, 20), (1998.65, 12, 16), (1998.75, 5, 8), (1998.82, 2.5, 3),
    (1998.95, 1.0, 1.2), (1999.1, 0.6, 0.7), (1999.37, 0.4, 0.5), (1999.38, 8, 12), (1999.45, 13, 17),
    (1999.53, 16, 20), (1999.6, 12, 17), (1999.7, 7, 12), (1999.8, 3, 5), (1999.9, 1.5, 2), (2000.05, 0.6, 0.8),
    (2000.31, 0.4, 0.5), (2000.32, 7, 10), (2000.45, 13, 18), (2000.56, 17, 22), (2000.63, 12, 17),
    (2000.72, 6, 10), (2000.8, 3, 4), (2000.9, 1.5, 2), (2001.05, 0.8, 1), (2001.33, 0.4, 0.5), (2001.34, 10, 14),
    (2001.45, 15, 19), (2001.58, 16, 20), (2001.67, 10, 14), (2001.76, 4, 6), (2001.83, 2, 2.5),
    (2001.95, 1, 1.2), (2002.1, 0.6, 0.8), (2002.36, 0.4, 0.5), (2002.37, 10, 14), (2002.45, 15, 20),
    (2002.52, 17, 22), (2002.62, 11, 16), (2002.75, 5, 7), (2002.83, 2.5, 3), (2002.95, 1.2, 1.5),
    (2003.1, 0.6, 0.8), (2003.37, 0.4, 0.5), (2003.38, 10, 14), (2003.47, 15, 20), (2003.56, 18, 22),
    (2003.62, 12, 18), (2003.72, 6, 10), (2003.8, 3, 4), (2003.9, 1.2, 1.5), (2004.05, 0.6, 0.8),
    (2004.33, 0.4, 0.5), (2004.34, 7, 10), (2004.45, 12, 17), (2004.57, 16, 20), (2004.65, 11, 16),
    (2004.75, 5, 8), (2004.83, 2.5, 3), (2004.95, 1.2, 1.5), (2005.1, 0.6, 0.8), (2005.35, 0.4, 0.5),
    (2005.36, 9, 13), (2005.45, 14, 18), (2005.56, 17, 21), (2005.65, 12, 17), (2005.75, 6, 9), (2005.83, 2.5, 3),
    (2005.95, 1.2, 1.5), (2006.1, 0.6, 0.8), (2006.36, 0.4, 0.5), (2006.37, 11, 15), (2006.45, 15, 20),
    (2006.58, 18, 23), (2006.65, 12, 18), (2006.78, 5, 7), (2006.86, 2.2, 2.8), (2006.95, 1.5, 1.8),
    (2007.1, 0.6, 0.8), (2007.32, 0.4, 0.5), (2007.33, 10, 14), (2007.45, 15, 20), (2007.55, 18, 23),
    (2007.62, 13, 18), (2007.72, 6, 10), (2007.8, 3, 4), (2007.9, 1.5, 2), (2008.05, 0.8, 1), (2008.39, 0.5, 0.6),
    (2008.4, 9, 13), (2008.5, 15, 19), (2008.54, 17, 20),
]

RED = "#ff0000"
BLACK = "#000000"
FONT = "DejaVu Sans"


def cols(rows):
    return [list(c) for c in zip(*rows)]


fig = go.Figure()

# Panel 1: SWE
t, v = cols(swe_model)
fig.add_trace(go.Scatter(x=t, y=v, mode="lines", line=dict(color=BLACK, width=1.3),
                         xaxis="x", yaxis="y", showlegend=False, hoverinfo="skip"))
t, v = cols(swe_obs)
fig.add_trace(go.Scatter(x=t, y=v, mode="markers",
                         marker=dict(color=RED, size=6.5, line=dict(color="#222222", width=0.6)),
                         xaxis="x", yaxis="y", showlegend=False))

# Panel 2: snow depth
t, v = cols(depth_model)
fig.add_trace(go.Scatter(x=t, y=v, mode="lines", line=dict(color=BLACK, width=1.3),
                         xaxis="x2", yaxis="y2", showlegend=False, hoverinfo="skip"))
t, v = cols(depth_obs_line)
fig.add_trace(go.Scatter(x=t, y=v, mode="lines", line=dict(color=RED, width=1.3),
                         xaxis="x2", yaxis="y2", showlegend=False, hoverinfo="skip"))
t, v = cols(depth_obs)
fig.add_trace(go.Scatter(x=t, y=v, mode="markers",
                         marker=dict(color=RED, size=6.5, line=dict(color="#222222", width=0.6)),
                         xaxis="x2", yaxis="y2", showlegend=False))


def add_band(rows, color, xa, ya):
    tt, lo, hi = cols(rows)
    fig.add_trace(go.Scatter(x=tt, y=lo, mode="lines", line=dict(color=color, width=1.2),
                             xaxis=xa, yaxis=ya, showlegend=False, hoverinfo="skip"))
    fig.add_trace(go.Scatter(x=tt, y=hi, mode="lines", line=dict(color=color, width=1.2),
                             fill="tonexty", fillcolor=color,
                             xaxis=xa, yaxis=ya, showlegend=False, hoverinfo="skip"))


# Panel 3: albedo band plus single-day dips
add_band(albedo_band, BLACK, "x3", "y3")
dip_x, dip_y = [], []
for t_dip, low in albedo_dips:
    dip_x += [t_dip, t_dip, None]
    dip_y += [albedo_plateau, low, None]
fig.add_trace(go.Scatter(x=dip_x, y=dip_y, mode="lines", line=dict(color=BLACK, width=1.6),
                         xaxis="x3", yaxis="y3", showlegend=False, hoverinfo="skip"))

# Panel 4: soil temperature
add_band(soil_obs_band, BLACK, "x4", "y4")
add_band(soil_model_band, RED, "x4", "y4")

# ---- layout ----
axis_common = dict(showline=True, linecolor=BLACK, linewidth=1, mirror="ticks", ticks="inside",
                   ticklen=5, tickwidth=1, tickcolor=BLACK, showgrid=False, zeroline=False,
                   tickfont=dict(family=FONT, size=15, color=BLACK))


def xaxis(anchor):
    return dict(axis_common, range=x_span, tickmode="array", tickvals=years, ticktext=year_labels,
                anchor=anchor, domain=[0, 1])


domains = [[0.7819, 1.0], [0.5218, 0.7378], [0.2612, 0.4782], [0.0, 0.2169]]

fig.update_layout(
    width=1212, height=645,
    margin=dict(l=72, r=1, t=29, b=20),
    paper_bgcolor="white", plot_bgcolor="white",
    font=dict(family=FONT, size=15, color=BLACK),
    xaxis=xaxis("y"), xaxis2=xaxis("y2"), xaxis3=xaxis("y3"), xaxis4=xaxis("y4"),
    yaxis=dict(axis_common, range=[0, 800], dtick=100, tick0=0, anchor="x", domain=domains[0]),
    yaxis2=dict(axis_common, range=[0, 2.5], dtick=0.5, tick0=0, tickformat=".1f", anchor="x2", domain=domains[1]),
    yaxis3=dict(axis_common, range=[0, 1.0], dtick=0.2, tick0=0, tickformat=".1f", anchor="x3", domain=domains[2]),
    yaxis4=dict(axis_common, range=[-15, 25], dtick=5, tick0=-15, anchor="x4", domain=domains[3]),
    annotations=[
        dict(text="Reynolds Mountain East", x=0.5, y=1.021, xref="paper", yref="paper",
             xanchor="center", yanchor="middle", showarrow=False, font=dict(family=FONT, size=18, color=BLACK)),
        dict(text="SWE (mm)", x=-0.0435, y=0.891, xref="paper", yref="paper", textangle=-90,
             xanchor="center", yanchor="middle", showarrow=False, font=dict(family=FONT, size=15, color=BLACK)),
        dict(text="Snow depth (m)", x=-0.040, y=0.630, xref="paper", yref="paper", textangle=-90,
             xanchor="center", yanchor="middle", showarrow=False, font=dict(family=FONT, size=15, color=BLACK)),
        dict(text="Albedo", x=-0.0395, y=0.370, xref="paper", yref="paper", textangle=-90,
             xanchor="center", yanchor="middle", showarrow=False, font=dict(family=FONT, size=15, color=BLACK)),
        dict(text="Soil temperature (<sup>∘</sup>C)", x=-0.047, y=0.108, xref="paper", yref="paper",
             textangle=-90, xanchor="center", yanchor="middle", showarrow=False,
             font=dict(family=FONT, size=15, color=BLACK)),
    ],
)

fig.write_html("out.html")
